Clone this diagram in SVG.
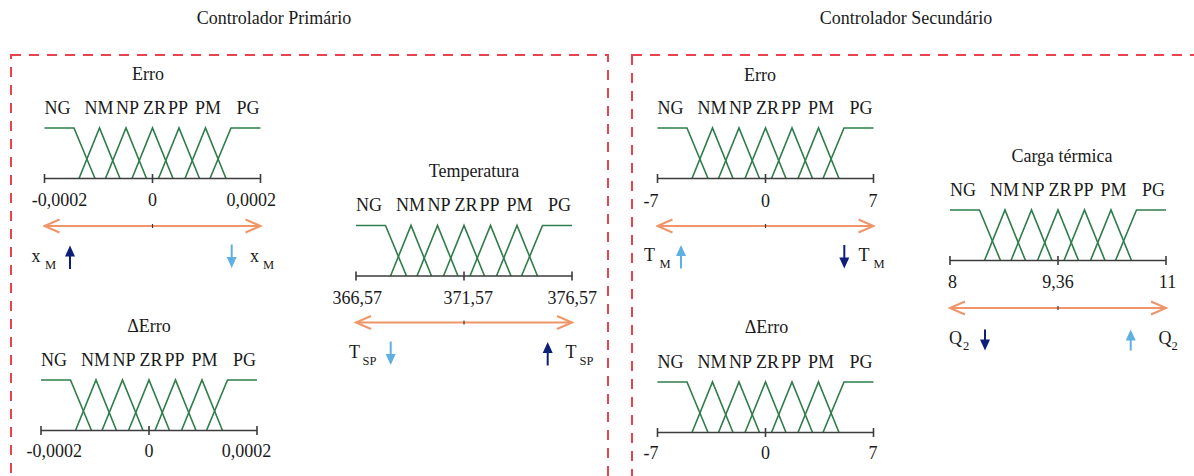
<svg xmlns="http://www.w3.org/2000/svg" xmlns:xlink="http://www.w3.org/1999/xlink" width="1194" height="476" viewBox="0 0 1194 476">
<style>
text{font-family:"Liberation Serif","Times New Roman",serif;fill:#1a1a1a;font-size:18px}
.t{text-anchor:middle}
.sub{font-size:12.5px}
.box{fill:none;stroke:#e8434f;stroke-width:2;stroke-dasharray:10 8}
.g{fill:none;stroke:#2e7d4a;stroke-width:1.6;stroke-linejoin:miter}
.ax{fill:none;stroke:#3c3c3c;stroke-width:1.6}
.or{fill:none;stroke:#f0956a;stroke-width:2;marker-start:url(#oh);marker-end:url(#oh)}
.ck{stroke:#3c3c3c;stroke-width:1.2}
.nv{stroke:#0d1f78;stroke-width:2;marker-end:url(#nh)}
.lb{stroke:#5eb0e3;stroke-width:2;marker-end:url(#lh)}
</style>
<defs>
<marker id="oh" viewBox="-17 -9 19 18" refX="0" refY="0" markerWidth="19" markerHeight="18" markerUnits="userSpaceOnUse" orient="auto-start-reverse">
<path d="M-15,-6.5 L0,0 L-15,6.5" fill="none" stroke="#f0956a" stroke-width="2"/>
</marker>
<marker id="nh" viewBox="-12 -6 14 12" refX="-4" refY="0" markerWidth="14" markerHeight="12" markerUnits="userSpaceOnUse" orient="auto">
<path d="M-11,-5 L0,0 L-11,5 z" fill="#0d1f78"/>
</marker>
<marker id="lh" viewBox="-12 -6 14 12" refX="-4" refY="0" markerWidth="14" markerHeight="12" markerUnits="userSpaceOnUse" orient="auto">
<path d="M-11,-5 L0,0 L-11,5 z" fill="#5eb0e3"/>
</marker>
<g id="mf">
<polyline class="g" points="-108,-50.5 -78.5,-50.5 -57.5,0"/>
<polyline class="g" points="-73.5,0 -53,-50.5 -32.5,0"/>
<polyline class="g" points="-47,0 -26.5,-50.5 -6,0"/>
<polyline class="g" points="-20.5,0 0,-50.5 20.5,0"/>
<polyline class="g" points="6,0 26.5,-50.5 47,0"/>
<polyline class="g" points="32.5,0 53,-50.5 73.5,0"/>
<polyline class="g" points="57.5,0 78.5,-50.5 108,-50.5"/>
<path class="ax" d="M-108,0 H108 M-108,-4.5 V4.5 M0,-4.5 V4.5 M108,-4.5 V4.5"/>
</g>
</defs>

<rect class="box" x="11" y="55" width="597" height="440"/>
<rect class="box" x="632" y="55" width="600" height="440"/>
<text class="t" x="274" y="24">Controlador Primário</text>
<text class="t" x="906" y="24">Controlador Secundário</text>

<g id="p1-erro" transform="translate(152.5,178.5)">
<use xlink:href="#mf"/>
<text class="t" x="-4.5" y="-98.5">Erro</text>
<text class="t" x="-95" y="-65">NG</text><text class="t" x="-53.5" y="-65">NM</text><text class="t" x="-25" y="-65">NP</text><text class="t" x="2" y="-65">ZR</text><text class="t" x="25.5" y="-65">PP</text><text class="t" x="55.5" y="-65">PM</text><text class="t" x="95.5" y="-65">PG</text>
<text class="t" x="-93" y="27.5">-0,0002</text><text class="t" x="0" y="27.5">0</text><text class="t" x="98.8" y="27.5">0,0002</text>
</g>

<g id="p2-temperatura" transform="translate(464,276)">
<use xlink:href="#mf"/>
<text class="t" x="10" y="-99">Temperatura</text>
<text class="t" x="-95" y="-65">NG</text><text class="t" x="-53.5" y="-65">NM</text><text class="t" x="-25" y="-65">NP</text><text class="t" x="2" y="-65">ZR</text><text class="t" x="25.5" y="-65">PP</text><text class="t" x="55.5" y="-65">PM</text><text class="t" x="95.5" y="-65">PG</text>
<text class="t" x="-106.8" y="27.5">366,57</text><text class="t" x="4.3" y="27.5">371,57</text><text class="t" x="108.2" y="27.5">376,57</text>
</g>

<g id="p3-deltaerro" transform="translate(149,430.5)">
<use xlink:href="#mf"/>
<text class="t" x="0" y="-99">ΔErro</text>
<text class="t" x="-95" y="-65">NG</text><text class="t" x="-53.5" y="-65">NM</text><text class="t" x="-25" y="-65">NP</text><text class="t" x="2" y="-65">ZR</text><text class="t" x="25.5" y="-65">PP</text><text class="t" x="55.5" y="-65">PM</text><text class="t" x="95.5" y="-65">PG</text>
<text class="t" x="-94.8" y="26.5">-0,0002</text><text class="t" x="0" y="26.5">0</text><text class="t" x="97.5" y="26.5">0,0002</text>
</g>

<g id="p4-erro" transform="translate(765.5,178.5)">
<use xlink:href="#mf"/>
<text class="t" x="-5.5" y="-98">Erro</text>
<text class="t" x="-95" y="-65">NG</text><text class="t" x="-53.5" y="-65">NM</text><text class="t" x="-25" y="-65">NP</text><text class="t" x="2" y="-65">ZR</text><text class="t" x="25.5" y="-65">PP</text><text class="t" x="55.5" y="-65">PM</text><text class="t" x="95.5" y="-65">PG</text>
<text class="t" x="-114.5" y="28">-7</text><text class="t" x="0" y="28">0</text><text class="t" x="107.5" y="28">7</text>
</g>

<g id="p5-carga" transform="translate(1058,260.5)">
<use xlink:href="#mf"/>
<text class="t" x="4" y="-99">Carga térmica</text>
<text class="t" x="-95" y="-65">NG</text><text class="t" x="-53.5" y="-65">NM</text><text class="t" x="-25" y="-65">NP</text><text class="t" x="2" y="-65">ZR</text><text class="t" x="25.5" y="-65">PP</text><text class="t" x="55.5" y="-65">PM</text><text class="t" x="95.5" y="-65">PG</text>
<text class="t" x="-105.5" y="27">8</text><text class="t" x="0" y="27">9,36</text><text class="t" x="109.5" y="27">11</text>
</g>

<g id="p6-deltaerro" transform="translate(765.5,432.5)">
<use xlink:href="#mf"/>
<text class="t" x="1" y="-99.5">ΔErro</text>
<text class="t" x="-95" y="-65">NG</text><text class="t" x="-53.5" y="-65">NM</text><text class="t" x="-25" y="-65">NP</text><text class="t" x="2" y="-65">ZR</text><text class="t" x="25.5" y="-65">PP</text><text class="t" x="55.5" y="-65">PM</text><text class="t" x="95.5" y="-65">PG</text>
<text class="t" x="-114.5" y="26">-7</text><text class="t" x="0" y="26">0</text><text class="t" x="107.5" y="26">7</text>
</g>

<g id="connectors">
<g transform="translate(152.5,178.5)">
<line class="or" x1="-108" y1="47.5" x2="108" y2="47.5"/>
<line class="ck" x1="0" y1="45.5" x2="0" y2="49.5"/>
<line class="nv" x1="-82.5" y1="90.5" x2="-82.5" y2="71"/>
<line class="lb" x1="79.2" y1="66" x2="79.2" y2="85.5"/>
</g>
<g transform="translate(464,276)">
<line class="or" x1="-108" y1="46.5" x2="108" y2="46.5"/>
<line class="ck" x1="0" y1="44.5" x2="0" y2="48.5"/>
<line class="lb" x1="-73.3" y1="65.5" x2="-73.3" y2="85"/>
<line class="nv" x1="83.7" y1="89.5" x2="83.7" y2="70"/>
</g>
<g transform="translate(765.5,178.5)">
<line class="or" x1="-108" y1="47.5" x2="108" y2="47.5"/>
<line class="ck" x1="0" y1="45.5" x2="0" y2="49.5"/>
<line class="lb" x1="-84.5" y1="90" x2="-84.5" y2="70.5"/>
<line class="nv" x1="78.8" y1="66.5" x2="78.8" y2="86"/>
</g>
<g transform="translate(1058,260.5)">
<line class="or" x1="-108" y1="47.5" x2="108" y2="47.5"/>
<line class="ck" x1="0" y1="45.5" x2="0" y2="49.5"/>
<line class="nv" x1="-73" y1="69" x2="-73" y2="86"/>
<line class="lb" x1="72.7" y1="90" x2="72.7" y2="73"/>
</g>
</g>

<g id="var-labels">
<text x="31.5" y="261.5">x</text><text class="sub" x="45" y="268.5">M</text>
<text x="250" y="261.5">x</text><text class="sub" x="263" y="268.5">M</text>
<text x="349" y="357.5">T</text><text class="sub" x="362.5" y="365">SP</text>
<text x="565.5" y="357.5">T</text><text class="sub" x="579.5" y="365">SP</text>
<text x="644" y="261">T</text><text class="sub" x="659.5" y="268">M</text>
<text x="858.5" y="261">T</text><text class="sub" x="873.5" y="268">M</text>
<text x="949" y="343.5">Q</text><text class="sub" x="963" y="349.5">2</text>
<text x="1158.5" y="343.5">Q</text><text class="sub" x="1171.5" y="349.5">2</text>
</g>
</svg>
